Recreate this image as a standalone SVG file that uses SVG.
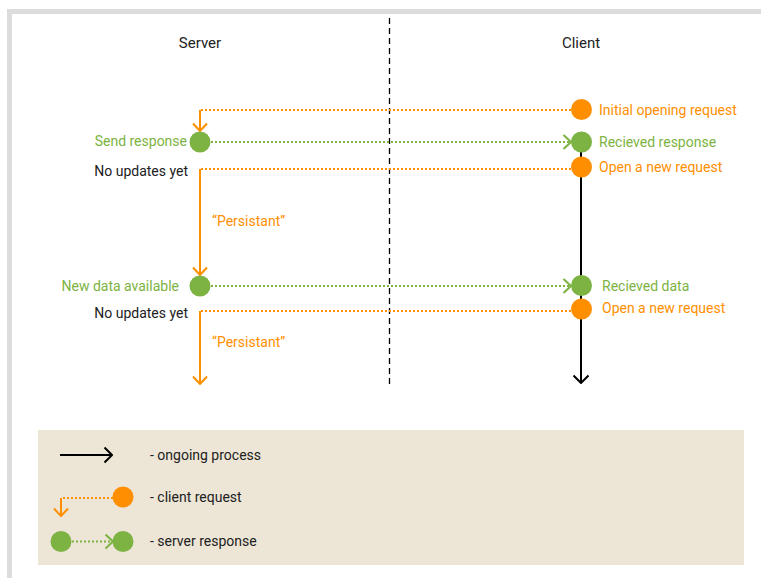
<svg xmlns="http://www.w3.org/2000/svg" width="761" height="578" viewBox="0 0 761 578">
  <style>
    text { font-family: Roboto, "Liberation Sans", sans-serif; font-size: 14px; }
    .hdr { fill: #212121; text-anchor: middle; font-size: 15px; }
    .blk { fill: #212121; }
    .org { fill: #ff8f00; }
    .grn { fill: #7cb342; }
    .end { text-anchor: end; }
    .dot-o { stroke: #ff8f00; stroke-width: 2; stroke-dasharray: 2 2; fill: none; }
    .dot-g { stroke: #7cb342; stroke-width: 2; stroke-dasharray: 2 2; fill: none; }
    .sol-o { stroke: #ff8f00; stroke-width: 2; fill: none; }
    .sol-k { stroke: #000; stroke-width: 2; fill: none; }
    .cO { fill: #ff8f00; }
    .cG { fill: #7cb342; }
  </style>
  <defs>
    <!-- open chevron heads, 8 long by 15 wide -->
    <marker id="chev-o" viewBox="0 0 10 16" refX="9" refY="8" markerWidth="10" markerHeight="16" markerUnits="userSpaceOnUse" orient="auto">
      <path d="M1.5,1 L9,8 L1.5,15" fill="none" stroke="#ff8f00" stroke-width="2"/>
    </marker>
    <marker id="chev-g" viewBox="0 0 10 16" refX="9" refY="8" markerWidth="10" markerHeight="16" markerUnits="userSpaceOnUse" orient="auto">
      <path d="M1.5,1 L9,8 L1.5,15" fill="none" stroke="#7cb342" stroke-width="2"/>
    </marker>
    <marker id="chev-k" viewBox="0 0 10 18" refX="9" refY="9" markerWidth="10" markerHeight="18" markerUnits="userSpaceOnUse" orient="auto">
      <path d="M1.5,1.5 L9,9 L1.5,16.5" fill="none" stroke="#000" stroke-width="2"/>
    </marker>
  </defs>

  <rect width="761" height="578" fill="#fff"/>
  <!-- outer frame -->
  <rect x="9.5" y="11.5" width="800" height="620" fill="none" stroke="#dcdcdc" stroke-width="5"/>

  <!-- column headers and divider -->
  <g id="headers">
    <text class="hdr" x="200" y="48">Server</text>
    <text class="hdr" x="581" y="48">Client</text>
    <line x1="389.5" y1="18" x2="389.5" y2="388" stroke="#000" stroke-width="1.3" stroke-dasharray="6 4"/>
  </g>

  <!-- connectors -->
  <g id="connectors">
    <!-- client timeline -->
    <line class="sol-k" x1="581" y1="145" x2="581" y2="383" marker-end="url(#chev-k)"/>
    <!-- initial request -->
    <polyline class="dot-o" points="571,110 200,110"/>
    <line class="sol-o" x1="200" y1="110" x2="200" y2="131" marker-end="url(#chev-o)"/>
    <!-- first response -->
    <line class="dot-g" x1="211" y1="142" x2="571" y2="142" marker-end="url(#chev-g)"/>
    <!-- second request, held open -->
    <polyline class="dot-o" points="571,169 200,169"/>
    <line class="sol-o" x1="200" y1="169" x2="200" y2="275" marker-end="url(#chev-o)"/>
    <!-- data response -->
    <line class="dot-g" x1="211" y1="286" x2="571" y2="286" marker-end="url(#chev-g)"/>
    <!-- third request, held open -->
    <polyline class="dot-o" points="571,311 200,311"/>
    <line class="sol-o" x1="200" y1="311" x2="200" y2="384" marker-end="url(#chev-o)"/>
  </g>

  <!-- server side -->
  <g id="server-send-response">
    <circle class="cG" cx="200" cy="142" r="10.5"/>
    <text class="grn end" x="187" y="146">Send response</text>
  </g>
  <g id="server-no-updates-1">
    <text class="blk end" x="188" y="176">No updates yet</text>
  </g>
  <g id="server-persistent-1">
    <text class="org" x="212" y="226">“Persistant”</text>
  </g>
  <g id="server-new-data">
    <circle class="cG" cx="200" cy="286" r="10.5"/>
    <text class="grn end" x="179" y="291">New data available</text>
  </g>
  <g id="server-no-updates-2">
    <text class="blk end" x="188" y="318">No updates yet</text>
  </g>
  <g id="server-persistent-2">
    <text class="org" x="212" y="347">“Persistant”</text>
  </g>

  <!-- client side -->
  <g id="client-initial-request">
    <circle class="cO" cx="581.5" cy="109.5" r="10.5"/>
    <text class="org" x="599" y="115">Initial opening request</text>
  </g>
  <g id="client-received-response">
    <circle class="cG" cx="581.5" cy="142" r="10.5"/>
    <text class="grn" x="599" y="147">Recieved response</text>
  </g>
  <g id="client-new-request-1">
    <circle class="cO" cx="581.5" cy="167" r="10.5"/>
    <text class="org" x="599" y="172">Open a new request</text>
  </g>
  <g id="client-received-data">
    <circle class="cG" cx="581.5" cy="285.5" r="10.5"/>
    <text class="grn" x="602" y="291">Recieved data</text>
  </g>
  <g id="client-new-request-2">
    <circle class="cO" cx="581.5" cy="309" r="10.5"/>
    <text class="org" x="602" y="313">Open a new request</text>
  </g>

  <!-- legend -->
  <g id="legend">
    <rect x="38" y="430" width="706" height="135" fill="#ede6d6"/>
    <line class="sol-k" x1="60" y1="455" x2="112" y2="455" marker-end="url(#chev-k)"/>
    <text class="blk" x="150" y="460">- ongoing process</text>

    <polyline class="dot-o" points="113,498 61,498"/>
    <line class="sol-o" x1="61" y1="498" x2="61" y2="516" marker-end="url(#chev-o)"/>
    <circle class="cO" cx="123" cy="497" r="10.5"/>
    <text class="blk" x="150" y="502">- client request</text>

    <circle class="cG" cx="61" cy="541.5" r="10.5"/>
    <line class="dot-g" x1="72" y1="541.5" x2="113" y2="541.5" marker-end="url(#chev-g)"/>
    <circle class="cG" cx="123" cy="541.5" r="10.5"/>
    <text class="blk" x="150" y="546">- server response</text>
  </g>
</svg>
